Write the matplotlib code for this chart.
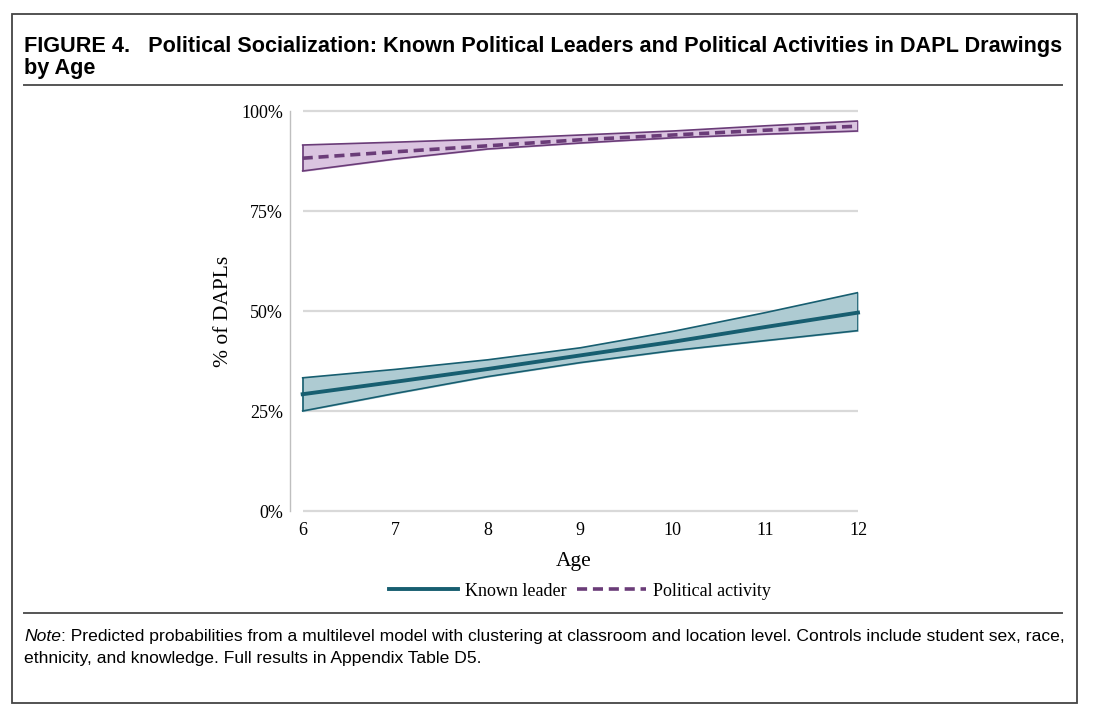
import matplotlib.pyplot as plt
from matplotlib.lines import Line2D
from matplotlib.patches import Rectangle

# Predicted probabilities (%) by age
ages = [6, 7, 8, 9, 10, 11, 12]
leader_mean = [29.2, 32.3, 35.5, 38.9, 42.3, 46.0, 49.6]
leader_hi = [33.3, 35.4, 37.8, 40.8, 44.9, 49.6, 54.6]
leader_lo = [25.0, 29.4, 33.6, 37.1, 40.1, 42.6, 45.1]
activity_mean = [88.2, 89.8, 91.3, 92.8, 94.0, 95.2, 96.2]
activity_hi = [91.5, 92.2, 93.0, 94.0, 95.0, 96.3, 97.5]
activity_lo = [85.0, 88.0, 90.5, 92.0, 93.3, 94.2, 95.0]
yticks = [0, 25, 50, 75, 100]
ytick_labels = ['0%', '25%', '50%', '75%', '100%']

teal = '#175e70'
teal_fill = '#aecbd2'
purple = '#6a3c78'
purple_fill = '#dac4e0'
serif = 'Liberation Serif'
sans = 'Liberation Sans'

W, H = 1100, 718
fig = plt.figure(figsize=(W / 100, H / 100), dpi=100)
fig.patch.set_facecolor('white')

# outer frame + rules
fig.add_artist(Rectangle((12 / W, 1 - 703 / H), 1065 / W, 689 / H,
                         transform=fig.transFigure, fill=False,
                         edgecolor='#444444', linewidth=1.3))
fig.add_artist(Line2D([24 / W, 1062 / W], [1 - 85 / H] * 2,
                      transform=fig.transFigure, color='#555555', linewidth=1.4))
fig.add_artist(Line2D([24 / W, 1062 / W], [1 - 613 / H] * 2,
                      transform=fig.transFigure, color='#555555', linewidth=1.4))

fig.text(24 / W, 1 - 36 / H,
         'FIGURE 4.   Political Socialization: Known Political Leaders and Political Activities in DAPL Drawings\nby Age',
         ha='left', va='top', fontsize=15.6, fontweight='bold', family=sans,
         linespacing=1.05)

# note: italic "Note" followed by the regular text
note = fig.text(24 / W, 1 - 629 / H, 'Note', ha='left', va='top', fontsize=12.6,
                style='italic', family=sans)
fig.canvas.draw()
bb = note.get_window_extent(renderer=fig.canvas.get_renderer())
fig.text(bb.x1 / W, bb.y0 / H,
         ': Predicted probabilities from a multilevel model with clustering at classroom and location level. Controls include student sex, race,',
         ha='left', va='bottom', fontsize=12.6, family=sans)
fig.text(24 / W, 1 - 651 / H,
         'ethnicity, and knowledge. Full results in Appendix Table D5.',
         ha='left', va='top', fontsize=12.6, family=sans)

ax = fig.add_axes([290 / W, 1 - 511 / H, 568 / W, 400 / H])
ax.set_xlim(5.863, 12.0)
ax.set_ylim(0, 100)

ax.hlines(yticks, 6, 12, color='#d9d9d9', linewidth=1.6, zorder=0, clip_on=False)

ax.fill_between(ages, leader_lo, leader_hi, color=teal_fill, zorder=1)
ax.plot(ages, leader_hi, color=teal, linewidth=1.2, zorder=2)
ax.plot(ages, leader_lo, color=teal, linewidth=1.2, zorder=2)
ax.vlines([ages[0], ages[-1]], [leader_lo[0], leader_lo[-1]],
          [leader_hi[0], leader_hi[-1]], color=teal, linewidth=1.2, zorder=2)
ax.plot(ages, leader_mean, color=teal, linewidth=2.8, zorder=3,
        label='Known leader', clip_on=False)

ax.fill_between(ages, activity_lo, activity_hi, color=purple_fill, zorder=1)
ax.plot(ages, activity_hi, color=purple, linewidth=1.2, zorder=2)
ax.plot(ages, activity_lo, color=purple, linewidth=1.2, zorder=2)
ax.vlines([ages[0], ages[-1]], [activity_lo[0], activity_lo[-1]],
          [activity_hi[0], activity_hi[-1]], color=purple, linewidth=1.2, zorder=2)
ax.plot(ages, activity_mean, color=purple, linewidth=2.6, dashes=(2.8, 1.6),
        zorder=3, label='Political activity')

for s in ['top', 'right', 'bottom']:
    ax.spines[s].set_visible(False)
ax.spines['left'].set_color('#bfbfbf')
ax.spines['left'].set_linewidth(1.0)

ax.set_xticks(ages)
ax.set_xticklabels([str(a) for a in ages], family=serif, fontsize=13)
ax.set_yticks(yticks)
ax.set_yticklabels(ytick_labels, family=serif, fontsize=13)
ax.tick_params(axis='x', length=0, pad=8)
ax.tick_params(axis='y', length=0, pad=5)

ax.set_xlabel('Age', family=serif, fontsize=15.5, labelpad=9)
ax.set_ylabel('% of DAPLs', family=serif, fontsize=15.5, labelpad=6)

handles, labels = ax.get_legend_handles_labels()
leg = fig.legend(handles, labels, loc='center', bbox_to_anchor=(580 / W, 1 - 591 / H),
                 ncol=2, frameon=False, prop={'family': serif, 'size': 13},
                 handlelength=3.8, columnspacing=0.6, handletextpad=0.4)

fig.savefig('out.png', dpi=100, facecolor='white')
